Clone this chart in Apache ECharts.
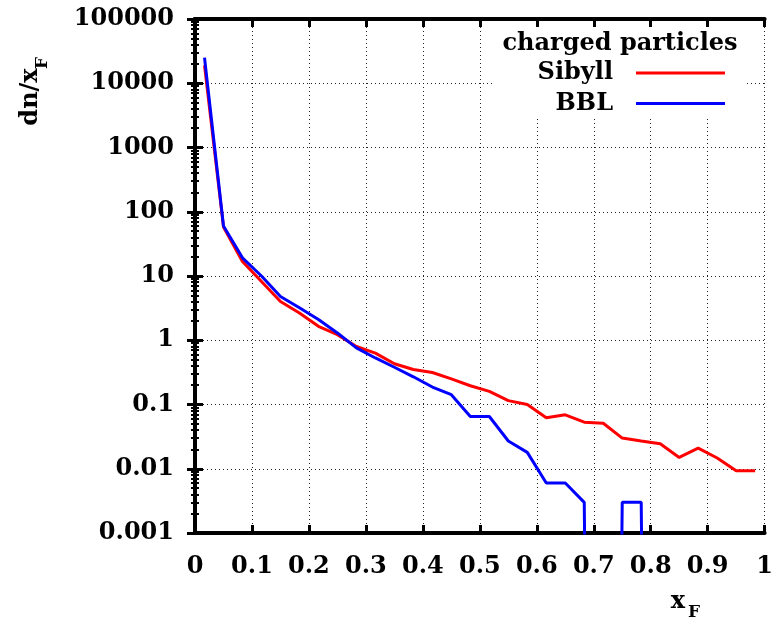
<!DOCTYPE html>
<html><head><meta charset="utf-8">
<script src="https://cdn.jsdelivr.net/npm/echarts@6/dist/echarts.min.js"></script>
<style>html,body{margin:0;padding:0;background:#fff}#c{width:776px;height:627px}</style>
</head><body><div id="c"></div>
<script>
// bin centres (x_F)
const xF = [0.0167, 0.05, 0.0833, 0.1167, 0.15, 0.1833, 0.2167, 0.25, 0.2833, 0.3167,
            0.35, 0.3833, 0.4167, 0.45, 0.4833, 0.5167, 0.55, 0.5833, 0.6167, 0.65,
            0.6833, 0.7167, 0.75, 0.7833, 0.8167, 0.85, 0.8833, 0.9167, 0.95, 0.9833];
// dn/x_F values
const sibyll = [19000, 58, 16.8, 8.2, 4.0, 2.65, 1.65, 1.22, 0.80, 0.63,
                0.43, 0.35, 0.315, 0.25, 0.196, 0.16, 0.115, 0.10, 0.062, 0.069,
                0.053, 0.051, 0.030, 0.027, 0.0245, 0.015, 0.021, 0.0147, 0.0093, 0.0093];
const bbl = [25000, 60, 19.2, 10, 4.8, 3.2, 2.1, 1.3, 0.76, 0.53,
             0.38, 0.27, 0.187, 0.142, 0.065, 0.065, 0.027, 0.018, 0.006, 0.006,
             0.003, 0, 0.003, 0.003, 0, 0, 0, 0, 0, 0];
const seriesNames = ['Sibyll', 'BBL'];
const legendTitle = 'charged particles';
const xTickLabels = ['0', '0.1', '0.2', '0.3', '0.4', '0.5', '0.6', '0.7', '0.8', '0.9', '1'];
const yTickLabels = ['0.001', '0.01', '0.1', '1', '10', '100', '1000', '10000', '100000'];

const FONT = 'DejaVu Serif';
const ZERO = 1e-30; // empty bins: drawn off the bottom of the log axis (clipped)
function pairs(vals) { return xF.map((x, i) => [x, vals[i] > 0 ? vals[i] : ZERO]); }

const lbl = { fontFamily: FONT, fontWeight: 'bold', fontSize: 24, color: '#000' };
const split = { show: true, lineStyle: { color: '#222', width: 1, type: [1, 3] } };
const axLine = { show: true, lineStyle: { color: '#000', width: 4 } };
const tick = { show: true, inside: true, length: 8, lineStyle: { color: '#000', width: 3 } };
const minor = { show: true, splitNumber: 9, length: 4, lineStyle: { color: '#000', width: 2 } };

const chart = echarts.init(document.getElementById('c'), null, { renderer: 'canvas' });
chart.setOption({
  animation: false,
  backgroundColor: '#fff',
  grid: { left: 195, right: 9, top: 19, bottom: 94, containLabel: false },
  xAxis: [
    { type: 'value', min: 0, max: 1, interval: 0.1, position: 'bottom',
      axisLine: axLine, axisTick: tick, splitLine: split,
      axisLabel: Object.assign({ margin: 22, formatter: v => xTickLabels[Math.round(v * 10)] }, lbl) },
    { type: 'value', min: 0, max: 1, interval: 0.1, position: 'top', z: 10,
      axisLine: axLine, axisTick: tick, splitLine: { show: false }, axisLabel: { show: false } }
  ],
  yAxis: [
    { type: 'log', logBase: 10, min: 0.001, max: 100000, splitNumber: 8, position: 'left',
      axisLine: axLine, axisTick: tick, minorTick: minor, splitLine: split,
      axisLabel: Object.assign({ margin: 21, formatter: v => yTickLabels[Math.round(Math.log10(v)) + 3] }, lbl) },
    { type: 'log', logBase: 10, min: 0.001, max: 100000, splitNumber: 8, position: 'right', z: 10,
      axisLine: axLine, axisTick: tick, minorTick: minor, splitLine: { show: false }, axisLabel: { show: false } }
  ],
  legend: {
    orient: 'vertical', right: 29, top: 23, align: 'right',
    icon: 'rect', itemWidth: 89, itemHeight: 3, itemGap: 0.5,
    padding: [35, 22, 0, 45], backgroundColor: '#fff',
    textStyle: Object.assign({ padding: [0, 18, 0, 0], lineHeight: 30 }, lbl),
    data: seriesNames
  },
  series: [
    { name: seriesNames[0], type: 'line', data: pairs(sibyll), symbol: 'none', clip: true,
      color: '#ff0000', lineStyle: { color: '#ff0000', width: 3 } },
    { name: seriesNames[1], type: 'line', data: pairs(bbl), symbol: 'none', clip: true,
      color: '#0000ff', lineStyle: { color: '#0000ff', width: 3 } }
  ],
  graphic: [
    { type: 'text', z: 100, x: 620, y: 44,
      style: Object.assign({ text: legendTitle, align: 'center', verticalAlign: 'middle' }, lbl, { fill: '#000' }) },
    { type: 'text', z: 100, x: 31, y: 97, rotation: Math.PI / 2,
      style: { text: 'dn/x', align: 'center', verticalAlign: 'middle', font: 'bold 24px "DejaVu Serif"', fill: '#000' } },
    { type: 'text', z: 100, x: 43, y: 63, rotation: Math.PI / 2,
      style: { text: 'F', align: 'center', verticalAlign: 'middle', font: 'bold 17px "DejaVu Serif"', fill: '#000' } },
    { type: 'text', z: 100, x: 678, y: 602,
      style: { text: 'x', align: 'center', verticalAlign: 'middle', font: 'bold 24px "DejaVu Serif"', fill: '#000' } },
    { type: 'text', z: 100, x: 694, y: 613,
      style: { text: 'F', align: 'center', verticalAlign: 'middle', font: 'bold 17px "DejaVu Serif"', fill: '#000' } }
  ]
});
</script></body></html>
